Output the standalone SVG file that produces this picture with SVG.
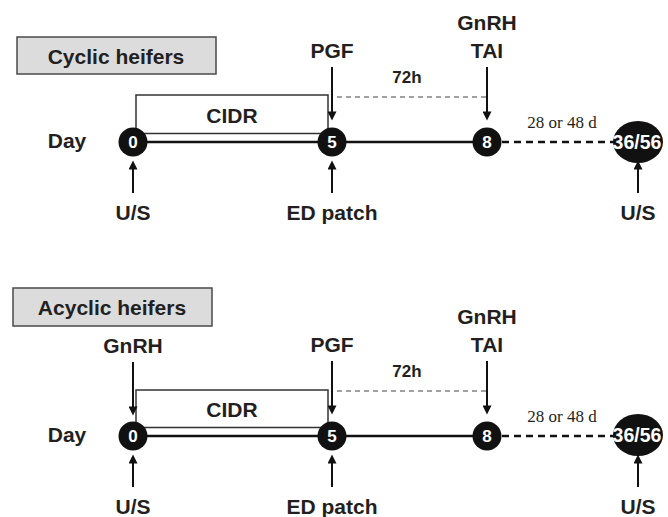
<svg xmlns="http://www.w3.org/2000/svg" width="668" height="517" viewBox="0 0 668 517">
<defs>
<marker id="ah" viewBox="0 0 10 10" refX="6" refY="5" markerWidth="11" markerHeight="9" orient="auto" markerUnits="userSpaceOnUse">
<path d="M0,0 L10,5 L0,10 z" fill="#111"/>
</marker>
<style>
.t{font-family:"Liberation Sans",Arial,sans-serif;font-weight:bold;fill:#231f20;text-anchor:middle}
.l{font-size:21px}
.s{font-size:17px}
.d{font-family:"Liberation Serif","Times New Roman",serif;font-size:17px;fill:#231f20;text-anchor:middle}
.w{font-family:"Liberation Sans",Arial,sans-serif;font-weight:bold;fill:#fff;text-anchor:middle;font-size:17px}
.box{fill:#dcdcdc;stroke:#4a4a4a;stroke-width:1.5}
.dot{fill:#111}
.arr{stroke:#111;stroke-width:2;fill:none;marker-end:url(#ah)}
.br{stroke:#333;stroke-width:1.5;fill:none}
.tl{stroke:#111;stroke-width:2.5;fill:none}
.dl{stroke:#111;stroke-width:2.5;fill:none;stroke-dasharray:7 5}
.hd{stroke:#444;stroke-width:1.2;fill:none;stroke-dasharray:5 4}
</style>
</defs>
<rect width="668" height="517" fill="#fff"/>

<!-- Top panel -->
<g id="connectors-top">
<path class="br" d="M136,133 V95 H328 V133"/>
<path class="br" d="M140,133.5 H325"/>
<path class="tl" d="M133,142 H487"/>
<path class="dl" d="M502,142 H614"/>
<path class="hd" d="M337,97 H486"/>
<path class="arr" d="M332,67 V117"/>
<path class="arr" d="M487,67 V117"/>
<path class="arr" d="M133,193 V164"/>
<path class="arr" d="M332,193 V164"/>
<path class="arr" d="M638,193 V164"/>
</g>
<g id="label-cyclic"><rect class="box" x="17" y="37" width="199" height="37"/><text class="t l" x="116" y="64">Cyclic heifers</text></g>
<g id="day-top"><text class="t l" x="67" y="148">Day</text></g>
<g id="cidr-top"><text class="t l" x="232" y="123">CIDR</text></g>
<g id="d0-top"><circle class="dot" cx="133" cy="142" r="14.5"/><text class="w" x="133" y="148">0</text></g>
<g id="d5-top"><circle class="dot" cx="332" cy="142" r="14.5"/><text class="w" x="332" y="148">5</text></g>
<g id="d8-top"><circle class="dot" cx="487" cy="142" r="14.5"/><text class="w" x="487" y="148">8</text></g>
<g id="d3656-top"><ellipse class="dot" cx="638" cy="142" rx="25" ry="21"/><text class="w" x="637" y="148.5" style="font-size:19.5px">36/56</text></g>
<g id="pgf-top"><text class="t l" x="332" y="58">PGF</text></g>
<g id="gnrh-tai-top"><text class="t l" x="487" y="30">GnRH</text><text class="t l" x="487" y="58">TAI</text></g>
<g id="h72-top"><text class="t s" x="407" y="83">72h</text></g>
<g id="days-top"><text class="d" x="562" y="128">28 or 48 d</text></g>
<g id="us1-top"><text class="t l" x="133" y="220">U/S</text></g>
<g id="ed-top"><text class="t l" x="332" y="220">ED patch</text></g>
<g id="us2-top"><text class="t l" x="638" y="220">U/S</text></g>

<!-- Bottom panel -->
<g id="connectors-bottom">
<path class="br" d="M136,427 V390 H328 V427"/>
<path class="br" d="M140,427.5 H325"/>
<path class="tl" d="M133,436 H487"/>
<path class="dl" d="M502,436 H614"/>
<path class="hd" d="M337,391 H486"/>
<path class="arr" d="M133,362 V412"/>
<path class="arr" d="M332,361 V411"/>
<path class="arr" d="M487,361 V411"/>
<path class="arr" d="M133,487 V458"/>
<path class="arr" d="M332,487 V458"/>
<path class="arr" d="M638,487 V458"/>
</g>
<g id="label-acyclic"><rect class="box" x="13" y="288" width="199" height="38"/><text class="t l" x="112" y="315">Acyclic heifers</text></g>
<g id="gnrh-left-bottom"><text class="t l" x="133" y="353">GnRH</text></g>
<g id="day-bottom"><text class="t l" x="67" y="442">Day</text></g>
<g id="cidr-bottom"><text class="t l" x="232" y="417">CIDR</text></g>
<g id="d0-bottom"><circle class="dot" cx="133" cy="436" r="14.5"/><text class="w" x="133" y="442">0</text></g>
<g id="d5-bottom"><circle class="dot" cx="332" cy="436" r="14.5"/><text class="w" x="332" y="442">5</text></g>
<g id="d8-bottom"><circle class="dot" cx="487" cy="436" r="14.5"/><text class="w" x="487" y="442">8</text></g>
<g id="d3656-bottom"><ellipse class="dot" cx="638" cy="435" rx="25" ry="21"/><text class="w" x="637" y="441.5" style="font-size:19.5px">36/56</text></g>
<g id="pgf-bottom"><text class="t l" x="332" y="352">PGF</text></g>
<g id="gnrh-tai-bottom"><text class="t l" x="487" y="324">GnRH</text><text class="t l" x="487" y="352">TAI</text></g>
<g id="h72-bottom"><text class="t s" x="407" y="377">72h</text></g>
<g id="days-bottom"><text class="d" x="562" y="422">28 or 48 d</text></g>
<g id="us1-bottom"><text class="t l" x="133" y="514">U/S</text></g>
<g id="ed-bottom"><text class="t l" x="332" y="514">ED patch</text></g>
<g id="us2-bottom"><text class="t l" x="638" y="514">U/S</text></g>
</svg>
